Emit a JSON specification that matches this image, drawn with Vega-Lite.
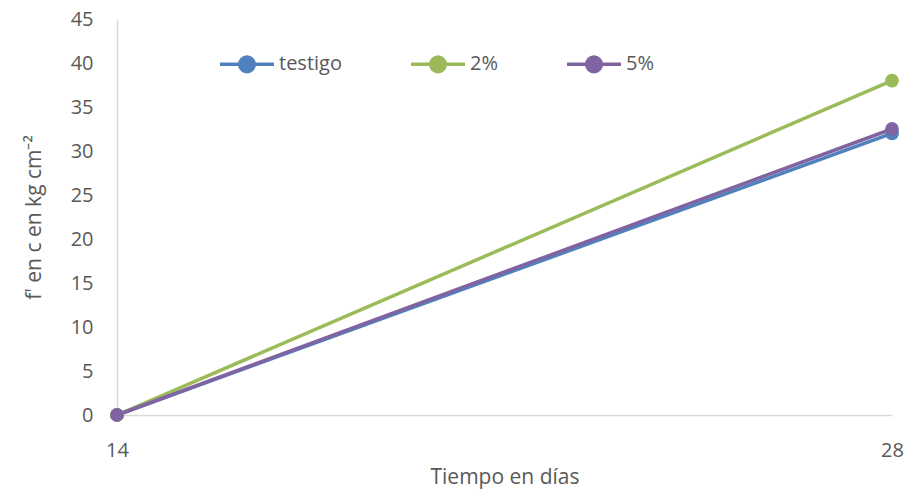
{
  "$schema": "https://vega.github.io/schema/vega-lite/v6.json",
  "width": 775,
  "height": 396,
  "autosize": "none",
  "padding": {"left": 117, "top": 19, "right": 15, "bottom": 75},
  "background": "white",
  "config": {
    "view": {"stroke": null},
    "font": "Open Sans"
  },
  "data": {
    "values": [
      {"dias": 14, "fc": 0, "serie": "testigo"},
      {"dias": 28, "fc": 32, "serie": "testigo"},
      {"dias": 14, "fc": 0, "serie": "2%"},
      {"dias": 28, "fc": 38, "serie": "2%"},
      {"dias": 14, "fc": 0, "serie": "5%"},
      {"dias": 28, "fc": 32.5, "serie": "5%"}
    ]
  },
  "encoding": {
    "x": {
      "field": "dias", "type": "quantitative",
      "scale": {"domain": [14, 28], "nice": false, "zero": false},
      "axis": {
        "values": [14, 28], "grid": false, "ticks": false, "labelFlush": false,
        "domainColor": "#d9d9d9", "domainWidth": 1.5,
        "labelFontSize": 20, "labelColor": "#595959", "labelPadding": 25,
        "labelFont": "Open Sans",
        "title": "Tiempo en días", "titleFontSize": 21, "titleFontWeight": "normal",
        "titleColor": "#595959", "titlePadding": 6, "titleFont": "Open Sans"
      }
    },
    "y": {
      "field": "fc", "type": "quantitative",
      "scale": {"domain": [0, 45], "nice": false},
      "axis": {
        "values": [0, 5, 10, 15, 20, 25, 30, 35, 40, 45], "grid": false, "ticks": false,
        "domainColor": "#d9d9d9", "domainWidth": 1.5,
        "labelFontSize": 20, "labelColor": "#595959", "labelPadding": 24,
        "labelFont": "Open Sans",
        "title": "f' en c en kg cm⁻²", "titleFontSize": 21, "titleFontWeight": "normal",
        "titleColor": "#595959", "titlePadding": 26, "titleFont": "Open Sans"
      }
    },
    "color": {
      "field": "serie", "type": "nominal",
      "scale": {"domain": ["testigo", "2%", "5%"], "range": ["#4F81BD", "#9BBB59", "#8064A2"]},
      "legend": {
        "title": null, "orient": "none", "direction": "horizontal",
        "legendX": 101, "legendY": 16,
        "symbolType": "M-1,0H1M-0.27,0a0.27,0.27 0 1,0 0.54,0a0.27,0.27 0 1,0 -0.54,0",
        "symbolSize": 2916, "symbolStrokeWidth": 3.5,
        "labelFontSize": 20, "labelColor": "#595959", "labelFont": "Open Sans",
        "labelOffset": 3, "columnPadding": 62,
        "encode": {
          "symbols": {
            "update": {
              "fill": {"scale": "color", "field": "value"},
              "stroke": {"scale": "color", "field": "value"},
              "opacity": {"value": 1}
            }
          }
        }
      }
    },
    "order": {"field": "dias"}
  },
  "layer": [
    {"mark": {"type": "line", "strokeWidth": 3.5}},
    {"mark": {"type": "point", "filled": true, "opacity": 1, "size": 190}}
  ]
}
